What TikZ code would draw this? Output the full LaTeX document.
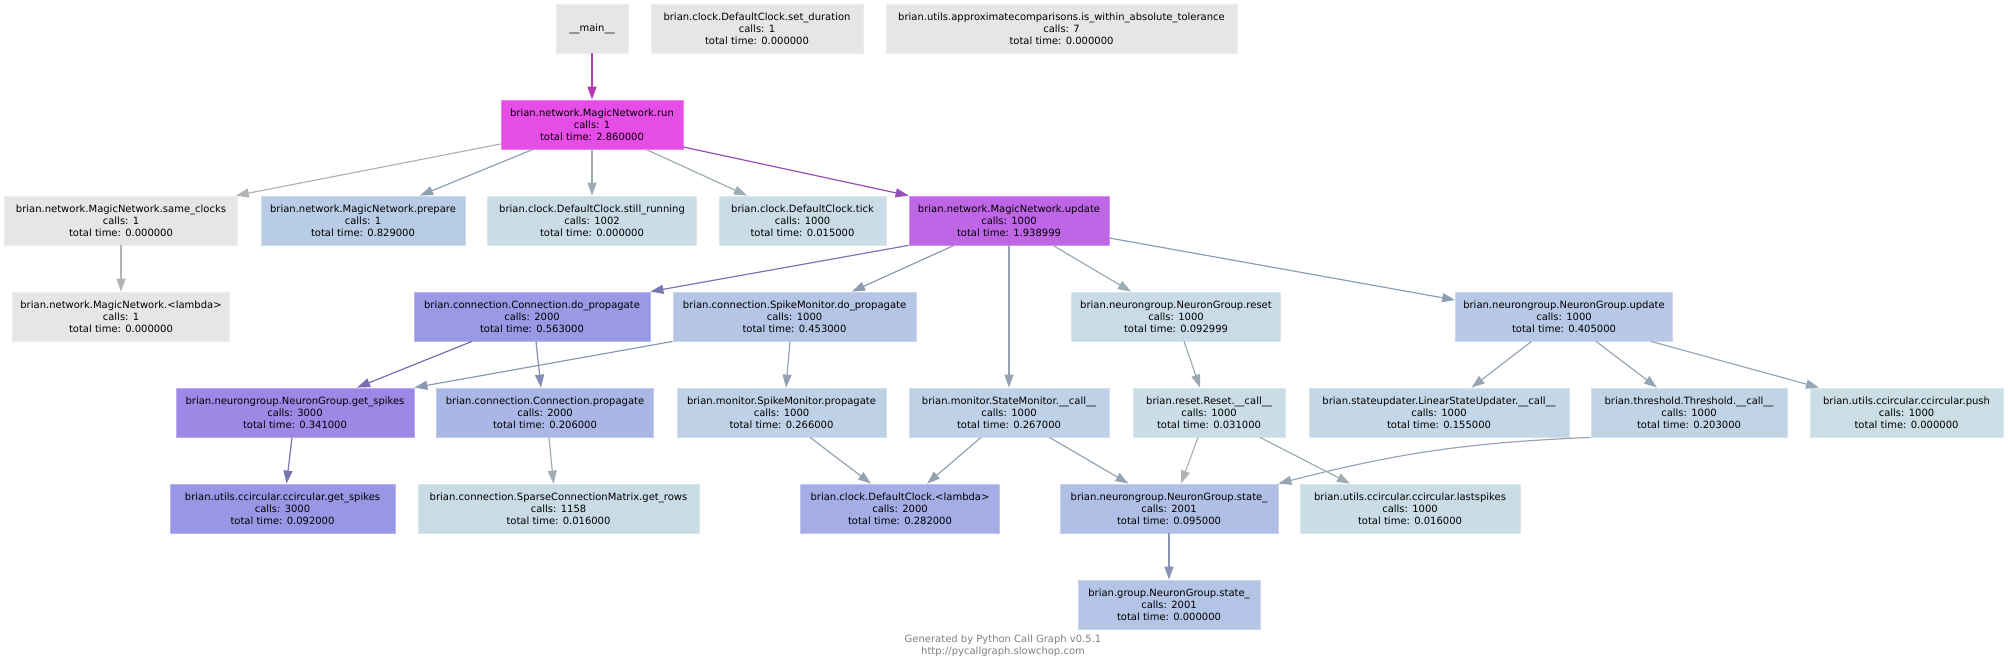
\documentclass[tikz,border=0pt]{standalone}
\usepackage{fontspec}
\setmainfont{DejaVu Sans}
\usetikzlibrary{arrows.meta}

\definecolor{nGrey}{HTML}{E6E6E6}
\definecolor{nRun}{HTML}{E64CE6}
\definecolor{nUpdate}{HTML}{BF66E6}
\definecolor{nPrepare}{HTML}{B8CCE6}
\definecolor{nPale}{HTML}{CADDE6}
\definecolor{nDoProp}{HTML}{9999E6}
\definecolor{nSmDoProp}{HTML}{B4C5E6}
\definecolor{nNgReset}{HTML}{C8DBE6}
\definecolor{nNgUpdate}{HTML}{B7C9E6}
\definecolor{nGetSpikes}{HTML}{9D88E6}
\definecolor{nCProp}{HTML}{A9B6E6}
\definecolor{nMonitor}{HTML}{BFD1E6}
\definecolor{nLinUpd}{HTML}{C4D7E6}
\definecolor{nThr}{HTML}{C1D4E6}
\definecolor{nPush}{HTML}{CBDEE6}
\definecolor{nCcSpikes}{HTML}{9A96E6}
\definecolor{nRows}{HTML}{C9DCE6}
\definecolor{nDcLambda}{HTML}{A5ADE6}
\definecolor{nNgState}{HTML}{B0BFE6}
\definecolor{nGrpState}{HTML}{B4C4E6}

\definecolor{eMagenta}{HTML}{B33BB3}
\definecolor{eGrey}{HTML}{B3B3B3}
\definecolor{eSlate}{HTML}{8F9FB3}
\definecolor{eLight}{HTML}{9EACB3}
\definecolor{ePurple}{HTML}{9550B3}
\definecolor{eViolet}{HTML}{7777B3}
\definecolor{eBlue}{HTML}{8C99B3}
\definecolor{eMid}{HTML}{94A2B3}
\definecolor{eSoft}{HTML}{9CABB3}
\definecolor{eIris}{HTML}{7A6CB3}
\definecolor{ePeri}{HTML}{848DB3}
\definecolor{eSteel}{HTML}{98A6B3}
\definecolor{eIndigo}{HTML}{7875B3}
\definecolor{eDeep}{HTML}{8994B3}
\definecolor{footGrey}{HTML}{808080}

\begin{document}
\begin{tikzpicture}[x=1pt, y=-1pt,
    fn/.style={rectangle, fill=#1, draw=#1!70!white, line width=0.8pt, minimum height=49pt, inner sep=0pt, align=center, font=\fontsize{10}{12}\selectfont},
    call/.style={draw=#1, line width=1.2pt, -{Triangle[length=13pt, width=9pt]}}]
    \useasboundingbox (0,0) rectangle (2008,669);

    \node[fn=nGrey, minimum width=72pt] (main) at (592,28.5) {\_\_main\_\_};
    \node[fn=nGrey, minimum width=212pt] (setdur) at (757,28.5) {brian.clock.DefaultClock.set\_duration\\calls: 1\\total time: 0.000000};
    \node[fn=nGrey, minimum width=351pt] (approx) at (1061.5,28.5) {brian.utils.approximatecomparisons.is\_within\_absolute\_tolerance\\calls: 7\\total time: 0.000000};

    \node[fn=nRun, minimum width=182pt] (run) at (592,124.5) {brian.network.MagicNetwork.run\\calls: 1\\total time: 2.860000};

    \node[fn=nGrey, minimum width=233pt] (sameclk) at (121,220.5) {brian.network.MagicNetwork.same\_clocks\\calls: 1\\total time: 0.000000};
    \node[fn=nPrepare, minimum width=204pt] (prepare) at (363,220.5) {brian.network.MagicNetwork.prepare\\calls: 1\\total time: 0.829000};
    \node[fn=nPale, minimum width=209pt] (stillrun) at (592,220.5) {brian.clock.DefaultClock.still\_running\\calls: 1002\\total time: 0.000000};
    \node[fn=nPale, minimum width=167pt] (tick) at (802.5,220.5) {brian.clock.DefaultClock.tick\\calls: 1000\\total time: 0.015000};
    \node[fn=nUpdate, minimum width=200pt] (update) at (1009,220.5) {brian.network.MagicNetwork.update\\calls: 1000\\total time: 1.938999};

    \node[fn=nGrey, minimum width=217pt] (mnlambda) at (121,316.5) {brian.network.MagicNetwork.<lambda>\\calls: 1\\total time: 0.000000};
    \node[fn=nDoProp, minimum width=236pt] (doprop) at (532,316.5) {brian.connection.Connection.do\_propagate\\calls: 2000\\total time: 0.563000};
    \node[fn=nSmDoProp, minimum width=243pt] (smdoprop) at (794.5,316.5) {brian.connection.SpikeMonitor.do\_propagate\\calls: 1000\\total time: 0.453000};
    \node[fn=nNgReset, minimum width=209pt] (ngreset) at (1176,316.5) {brian.neurongroup.NeuronGroup.reset\\calls: 1000\\total time: 0.092999};
    \node[fn=nNgUpdate, minimum width=217pt] (ngupdate) at (1564,316.5) {brian.neurongroup.NeuronGroup.update\\calls: 1000\\total time: 0.405000};

    \node[fn=nGetSpikes, minimum width=238pt] (getspikes) at (295,412.5) {brian.neurongroup.NeuronGroup.get\_spikes\\calls: 3000\\total time: 0.341000};
    \node[fn=nCProp, minimum width=217pt] (cprop) at (545,412.5) {brian.connection.Connection.propagate\\calls: 2000\\total time: 0.206000};
    \node[fn=nMonitor, minimum width=209pt] (smprop) at (781.5,412.5) {brian.monitor.SpikeMonitor.propagate\\calls: 1000\\total time: 0.266000};
    \node[fn=nMonitor, minimum width=200pt] (stmoncall) at (1009,412.5) {brian.monitor.StateMonitor.\_\_call\_\_\\calls: 1000\\total time: 0.267000};
    \node[fn=nPale, minimum width=152pt] (resetcall) at (1209,412.5) {brian.reset.Reset.\_\_call\_\_\\calls: 1000\\total time: 0.031000};
    \node[fn=nLinUpd, minimum width=260pt] (linupd) at (1439,412.5) {brian.stateupdater.LinearStateUpdater.\_\_call\_\_\\calls: 1000\\total time: 0.155000};
    \node[fn=nThr, minimum width=196pt] (thrcall) at (1689,412.5) {brian.threshold.Threshold.\_\_call\_\_\\calls: 1000\\total time: 0.203000};
    \node[fn=nPush, minimum width=193pt] (ccpush) at (1906.5,412.5) {brian.utils.ccircular.ccircular.push\\calls: 1000\\total time: 0.000000};

    \node[fn=nCcSpikes, minimum width=225pt] (ccspikes) at (282.5,508.5) {brian.utils.ccircular.ccircular.get\_spikes\\calls: 3000\\total time: 0.092000};
    \node[fn=nRows, minimum width=281pt] (getrows) at (558.5,508.5) {brian.connection.SparseConnectionMatrix.get\_rows\\calls: 1158\\total time: 0.016000};
    \node[fn=nDcLambda, minimum width=199pt] (dclambda) at (900,508.5) {brian.clock.DefaultClock.<lambda>\\calls: 2000\\total time: 0.282000};
    \node[fn=nNgState, minimum width=218pt] (ngstate) at (1169,508.5) {brian.neurongroup.NeuronGroup.state\_\\calls: 2001\\total time: 0.095000};
    \node[fn=nPale, minimum width=220pt] (lastspikes) at (1410,508.5) {brian.utils.ccircular.ccircular.lastspikes\\calls: 1000\\total time: 0.016000};

    \node[fn=nGrpState, minimum width=182pt] (grpstate) at (1169,604.5) {brian.group.NeuronGroup.state\_\\calls: 2001\\total time: 0.000000};

    \node[align=center, text=footGrey, inner sep=0pt, font=\fontsize{10}{11.5}\selectfont] (footer) at (1003,645.5) {Generated by Python Call Graph v0.5.1\\http://pycallgraph.slowchop.com};

    \draw[call=eMagenta] (main.south) -- (run.north);
    \draw[call=eGrey] ([yshift=-19.5pt]run.west) -- ([xshift=-2pt]sameclk.north east);
    \draw[call=eSlate] ([xshift=-59pt]run.south) -- ([xshift=57pt]prepare.north);
    \draw[call=eLight] (run.south) -- (stillrun.north);
    \draw[call=eLight] ([xshift=54pt]run.south) -- ([xshift=-55.5pt]tick.north);
    \draw[call=ePurple] ([yshift=-22.5pt]run.east) -- (update.north west);
    \draw[call=eGrey] (sameclk.south) -- (mnlambda.north);

    \draw[call=eViolet] (update.south west) -- (doprop.north east);
    \draw[call=eBlue] ([xshift=-55pt]update.south) -- ([xshift=57.5pt]smdoprop.north);
    \draw[call=eMid] (update.south) -- (stmoncall.north);
    \draw[call=eSoft] ([xshift=44pt]update.south) -- ([xshift=-45pt]ngreset.north);
    \draw[call=eSlate] ([yshift=-17.5pt]update.east) -- ([yshift=16.5pt]ngupdate.west);

    \draw[call=eIris] ([xshift=-60pt]doprop.south) -- ([xshift=62pt]getspikes.north);
    \draw[call=ePeri] ([xshift=4pt]doprop.south) -- ([xshift=-4pt]cprop.north);
    \draw[call=eBlue] (smdoprop.south west) -- (getspikes.north east);
    \draw[call=eMid] ([xshift=-4.5pt]smdoprop.south) -- ([xshift=4.5pt]smprop.north);
    \draw[call=eSoft] ([xshift=8pt]ngreset.south) -- ([xshift=-9pt]resetcall.north);
    \draw[call=eSteel] ([xshift=-32.5pt]ngupdate.south) -- ([xshift=32.5pt]linupd.north);
    \draw[call=eSteel] ([xshift=32pt]ngupdate.south) -- ([xshift=-32pt]thrcall.north);
    \draw[call=eSteel] ([xshift=87pt]ngupdate.south) -- ([xshift=-87.5pt]ccpush.north);

    \draw[call=eIndigo] ([xshift=-3pt]getspikes.south) -- ([xshift=4pt]ccspikes.north);
    \draw[call=eLight] ([xshift=4pt]cprop.south) -- ([xshift=-5pt]getrows.north);
    \draw[call=eMid] ([xshift=28.5pt]smprop.south) -- ([xshift=-29pt]dclambda.north);
    \draw[call=eMid] ([xshift=-28pt]stmoncall.south) -- ([xshift=27pt]dclambda.north);
    \draw[call=eMid] ([xshift=40.5pt]stmoncall.south) -- ([xshift=-40.5pt]ngstate.north);
    \draw[call=eGrey] ([xshift=-11pt]resetcall.south) -- ([xshift=12pt]ngstate.north);
    \draw[call=eLight] ([xshift=51pt]resetcall.south) -- ([xshift=-60pt]lastspikes.north);
    \draw[call=eSteel] (thrcall.south west) to[bend right=6] (ngstate.north east);

    \draw[call=eDeep] (ngstate.south) -- (grpstate.north);
\end{tikzpicture}
\end{document}
